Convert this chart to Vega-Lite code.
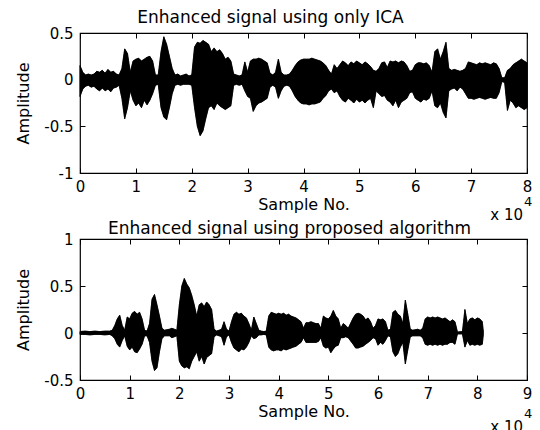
{
  "$schema": "https://vega.github.io/schema/vega-lite/v6.json",
  "background": "white",
  "padding": {"left": 15, "top": 8, "right": 2, "bottom": 0},
  "spacing": 66,
  "bounds": "flush",
  "config": {
    "view": {"stroke": "black", "strokeWidth": 1.2},
    "font": "DejaVu Sans",
    "axis": {
      "grid": false, "domain": false, "tickColor": "black", "tickSize": -5, "tickWidth": 1,
      "labelFont": "DejaVu Sans", "labelFontSize": 15, "labelColor": "black",
      "labelFlush": false, "labelOverlap": false,
      "titleFont": "DejaVu Sans", "titleFontSize": 16, "titleFontWeight": "normal", "titleColor": "black"
    },
    "axisX": {"labelPadding": 11, "titlePadding": 2},
    "axisY": {"labelPadding": 12, "titlePadding": 12},
    "title": {"font": "DejaVu Sans", "fontSize": 17, "fontWeight": "normal", "color": "black", "frame": "group", "baseline": "alphabetic"}
  },
  "datasets": {
    "t": [
      {"s":0,"h":0.15,"l":-0.18},{"s":500,"h":0.08,"l":-0.1},{"s":1000,"h":0.05,"l":-0.07},{"s":1500,"h":0.06,"l":-0.06},
      {"s":2000,"h":0.05,"l":-0.08},{"s":2500,"h":0.06,"l":-0.07},{"s":3000,"h":0.09,"l":-0.1},{"s":3500,"h":0.08,"l":-0.12},
      {"s":4000,"h":0.1,"l":-0.09},{"s":4500,"h":0.07,"l":-0.12},{"s":5000,"h":0.11,"l":-0.1},{"s":5500,"h":0.08,"l":-0.13},
      {"s":6000,"h":0.09,"l":-0.09},{"s":6500,"h":0.06,"l":-0.08},{"s":7000,"h":0.05,"l":-0.06},{"s":7500,"h":0.12,"l":-0.2},
      {"s":8000,"h":0.33,"l":-0.42},{"s":8500,"h":0.28,"l":-0.3},{"s":9000,"h":0.08,"l":-0.12},{"s":9500,"h":0.2,"l":-0.22},
      {"s":10000,"h":0.22,"l":-0.28},{"s":10500,"h":0.23,"l":-0.25},{"s":11000,"h":0.2,"l":-0.3},{"s":11500,"h":0.22,"l":-0.22},
      {"s":12000,"h":0.24,"l":-0.27},{"s":12500,"h":0.25,"l":-0.22},{"s":13000,"h":0.2,"l":-0.15},{"s":13500,"h":0.05,"l":-0.06},
      {"s":14000,"h":0.05,"l":-0.05},{"s":14500,"h":0.3,"l":-0.3},{"s":15000,"h":0.46,"l":-0.4},{"s":15500,"h":0.38,"l":-0.43},
      {"s":16000,"h":0.25,"l":-0.3},{"s":16500,"h":0.12,"l":-0.15},{"s":17000,"h":0.05,"l":-0.06},{"s":17500,"h":0.06,"l":-0.05},
      {"s":18000,"h":0.04,"l":-0.06},{"s":18500,"h":0.05,"l":-0.05},{"s":19000,"h":0.06,"l":-0.05},{"s":19500,"h":0.04,"l":-0.05},
      {"s":20000,"h":0.05,"l":-0.06},{"s":20500,"h":0.35,"l":-0.3},{"s":21000,"h":0.4,"l":-0.5},{"s":21500,"h":0.39,"l":-0.6},
      {"s":22000,"h":0.42,"l":-0.55},{"s":22500,"h":0.4,"l":-0.42},{"s":23000,"h":0.38,"l":-0.3},{"s":23500,"h":0.3,"l":-0.28},
      {"s":24000,"h":0.34,"l":-0.32},{"s":24500,"h":0.3,"l":-0.25},{"s":25000,"h":0.32,"l":-0.28},{"s":25500,"h":0.28,"l":-0.3},
      {"s":26000,"h":0.22,"l":-0.32},{"s":26500,"h":0.24,"l":-0.3},{"s":27000,"h":0.2,"l":-0.28},{"s":27500,"h":0.06,"l":-0.06},
      {"s":28000,"h":0.05,"l":-0.05},{"s":28500,"h":0.04,"l":-0.06},{"s":29000,"h":0.05,"l":-0.05},{"s":29500,"h":0.19,"l":-0.12},
      {"s":30000,"h":0.08,"l":-0.18},{"s":30500,"h":0.2,"l":-0.2},{"s":31000,"h":0.22,"l":-0.34},{"s":31500,"h":0.22,"l":-0.28},
      {"s":32000,"h":0.23,"l":-0.25},{"s":32500,"h":0.22,"l":-0.24},{"s":33000,"h":0.2,"l":-0.22},{"s":33500,"h":0.18,"l":-0.2},
      {"s":34000,"h":0.07,"l":-0.08},{"s":34500,"h":0.05,"l":-0.06},{"s":35000,"h":0.08,"l":-0.08},{"s":35500,"h":0.22,"l":-0.2},
      {"s":36000,"h":0.08,"l":-0.12},{"s":36500,"h":0.05,"l":-0.07},{"s":37000,"h":0.05,"l":-0.06},{"s":37500,"h":0.06,"l":-0.07},
      {"s":38000,"h":0.1,"l":-0.12},{"s":38500,"h":0.15,"l":-0.18},{"s":39000,"h":0.19,"l":-0.22},{"s":39500,"h":0.21,"l":-0.25},
      {"s":40000,"h":0.22,"l":-0.26},{"s":40500,"h":0.22,"l":-0.26},{"s":41000,"h":0.22,"l":-0.27},{"s":41500,"h":0.23,"l":-0.26},
      {"s":42000,"h":0.22,"l":-0.26},{"s":42500,"h":0.21,"l":-0.25},{"s":43000,"h":0.2,"l":-0.24},{"s":43500,"h":0.18,"l":-0.2},
      {"s":44000,"h":0.15,"l":-0.17},{"s":44500,"h":0.1,"l":-0.12},{"s":45000,"h":0.06,"l":-0.1},{"s":45500,"h":0.16,"l":-0.14},
      {"s":46000,"h":0.12,"l":-0.12},{"s":46500,"h":0.16,"l":-0.18},{"s":47000,"h":0.2,"l":-0.22},{"s":47500,"h":0.18,"l":-0.24},
      {"s":48000,"h":0.15,"l":-0.2},{"s":48500,"h":0.19,"l":-0.22},{"s":49000,"h":0.17,"l":-0.25},{"s":49500,"h":0.2,"l":-0.21},
      {"s":50000,"h":0.18,"l":-0.24},{"s":50500,"h":0.16,"l":-0.22},{"s":51000,"h":0.19,"l":-0.25},{"s":51500,"h":0.17,"l":-0.22},
      {"s":52000,"h":0.14,"l":-0.2},{"s":52500,"h":0.1,"l":-0.3},{"s":53000,"h":0.09,"l":-0.12},{"s":53500,"h":0.12,"l":-0.15},
      {"s":54000,"h":0.18,"l":-0.18},{"s":54500,"h":0.19,"l":-0.17},{"s":55000,"h":0.13,"l":-0.22},{"s":55500,"h":0.2,"l":-0.24},
      {"s":56000,"h":0.19,"l":-0.28},{"s":56500,"h":0.2,"l":-0.22},{"s":57000,"h":0.18,"l":-0.3},{"s":57500,"h":0.2,"l":-0.24},
      {"s":58000,"h":0.19,"l":-0.22},{"s":58500,"h":0.15,"l":-0.2},{"s":59000,"h":0.09,"l":-0.14},{"s":59500,"h":0.1,"l":-0.13},
      {"s":60000,"h":0.16,"l":-0.2},{"s":60500,"h":0.18,"l":-0.22},{"s":61000,"h":0.18,"l":-0.24},{"s":61500,"h":0.17,"l":-0.21},
      {"s":62000,"h":0.18,"l":-0.22},{"s":62500,"h":0.15,"l":-0.2},{"s":63000,"h":0.08,"l":-0.12},{"s":63500,"h":0.3,"l":-0.28},
      {"s":64000,"h":0.33,"l":-0.3},{"s":64500,"h":0.22,"l":-0.25},{"s":65000,"h":0.3,"l":-0.35},{"s":65500,"h":0.4,"l":-0.41},
      {"s":66000,"h":0.12,"l":-0.12},{"s":66500,"h":0.1,"l":-0.1},{"s":67000,"h":0.11,"l":-0.09},{"s":67500,"h":0.1,"l":-0.12},
      {"s":68000,"h":0.09,"l":-0.08},{"s":68500,"h":0.1,"l":-0.1},{"s":69000,"h":0.12,"l":-0.15},{"s":69500,"h":0.19,"l":-0.2},
      {"s":70000,"h":0.18,"l":-0.2},{"s":70500,"h":0.17,"l":-0.21},{"s":71000,"h":0.16,"l":-0.2},{"s":71500,"h":0.18,"l":-0.19},
      {"s":72000,"h":0.17,"l":-0.2},{"s":72500,"h":0.18,"l":-0.21},{"s":73000,"h":0.17,"l":-0.2},{"s":73500,"h":0.16,"l":-0.19},
      {"s":74000,"h":0.18,"l":-0.2},{"s":74500,"h":0.17,"l":-0.2},{"s":75000,"h":0.12,"l":-0.14},{"s":75500,"h":0.02,"l":-0.02},
      {"s":76000,"h":0.02,"l":-0.03},{"s":76500,"h":0.1,"l":-0.33},{"s":77000,"h":0.12,"l":-0.22},{"s":77500,"h":0.16,"l":-0.25},
      {"s":78000,"h":0.18,"l":-0.3},{"s":78500,"h":0.2,"l":-0.28},{"s":79000,"h":0.22,"l":-0.3},{"s":79500,"h":0.2,"l":-0.32},
      {"s":80000,"h":0.18,"l":-0.3}
    ],
    "b": [
      {"s":0,"h":0.015,"l":-0.015},{"s":1000,"h":0.02,"l":-0.015},{"s":2000,"h":0.015,"l":-0.02},{"s":3000,"h":0.02,"l":-0.015},
      {"s":4000,"h":0.015,"l":-0.015},{"s":5000,"h":0.02,"l":-0.02},{"s":6000,"h":0.02,"l":-0.015},{"s":6500,"h":0.03,"l":-0.03},
      {"s":7000,"h":0.08,"l":-0.06},{"s":7500,"h":0.15,"l":-0.12},{"s":8000,"h":0.19,"l":-0.15},{"s":8500,"h":0.08,"l":-0.08},
      {"s":9000,"h":0.03,"l":-0.03},{"s":9500,"h":0.17,"l":-0.14},{"s":10000,"h":0.15,"l":-0.18},{"s":10500,"h":0.21,"l":-0.15},
      {"s":11000,"h":0.23,"l":-0.2},{"s":11500,"h":0.2,"l":-0.21},{"s":12000,"h":0.22,"l":-0.17},{"s":12500,"h":0.15,"l":-0.12},
      {"s":13000,"h":0.03,"l":-0.03},{"s":13500,"h":0.02,"l":-0.03},{"s":14000,"h":0.1,"l":-0.1},{"s":14500,"h":0.36,"l":-0.3},
      {"s":15000,"h":0.41,"l":-0.4},{"s":15500,"h":0.3,"l":-0.37},{"s":16000,"h":0.18,"l":-0.2},{"s":16500,"h":0.05,"l":-0.06},
      {"s":17000,"h":0.03,"l":-0.03},{"s":18000,"h":0.04,"l":-0.03},{"s":18500,"h":0.05,"l":-0.05},{"s":19000,"h":0.04,"l":-0.04},
      {"s":19500,"h":0.03,"l":-0.03},{"s":20000,"h":0.3,"l":-0.3},{"s":20500,"h":0.5,"l":-0.35},{"s":21000,"h":0.58,"l":-0.37},
      {"s":21500,"h":0.52,"l":-0.36},{"s":22000,"h":0.48,"l":-0.38},{"s":22500,"h":0.4,"l":-0.3},{"s":23000,"h":0.3,"l":-0.25},
      {"s":23500,"h":0.18,"l":-0.2},{"s":24000,"h":0.3,"l":-0.3},{"s":24500,"h":0.32,"l":-0.25},{"s":25000,"h":0.28,"l":-0.33},
      {"s":25500,"h":0.33,"l":-0.26},{"s":26000,"h":0.3,"l":-0.24},{"s":26500,"h":0.25,"l":-0.22},{"s":27000,"h":0.04,"l":-0.04},
      {"s":27500,"h":0.02,"l":-0.02},{"s":28000,"h":0.03,"l":-0.03},{"s":28500,"h":0.04,"l":-0.04},{"s":29000,"h":0.12,"l":-0.13},
      {"s":29500,"h":0.04,"l":-0.04},{"s":30000,"h":0.02,"l":-0.02},{"s":30500,"h":0.12,"l":-0.1},{"s":31000,"h":0.2,"l":-0.16},
      {"s":31500,"h":0.22,"l":-0.18},{"s":32000,"h":0.2,"l":-0.2},{"s":32500,"h":0.21,"l":-0.17},{"s":33000,"h":0.18,"l":-0.18},
      {"s":33500,"h":0.16,"l":-0.15},{"s":34000,"h":0.1,"l":-0.1},{"s":34500,"h":0.03,"l":-0.03},{"s":35000,"h":0.17,"l":-0.06},
      {"s":35500,"h":0.1,"l":-0.05},{"s":36000,"h":0.03,"l":-0.02},{"s":36500,"h":0.02,"l":-0.02},{"s":37000,"h":0.015,"l":-0.015},
      {"s":37500,"h":0.02,"l":-0.02},{"s":38000,"h":0.18,"l":-0.15},{"s":38500,"h":0.22,"l":-0.18},{"s":39000,"h":0.21,"l":-0.19},
      {"s":39500,"h":0.2,"l":-0.18},{"s":40000,"h":0.21,"l":-0.18},{"s":40500,"h":0.2,"l":-0.19},{"s":41000,"h":0.21,"l":-0.17},
      {"s":41500,"h":0.19,"l":-0.18},{"s":42000,"h":0.2,"l":-0.17},{"s":42500,"h":0.18,"l":-0.16},{"s":43000,"h":0.17,"l":-0.15},
      {"s":43500,"h":0.16,"l":-0.14},{"s":44000,"h":0.14,"l":-0.12},{"s":44500,"h":0.12,"l":-0.1},{"s":45000,"h":0.05,"l":-0.05},
      {"s":45500,"h":0.11,"l":-0.1},{"s":46000,"h":0.11,"l":-0.1},{"s":46500,"h":0.12,"l":-0.1},{"s":47000,"h":0.11,"l":-0.1},
      {"s":47500,"h":0.1,"l":-0.1},{"s":48000,"h":0.1,"l":-0.09},{"s":48500,"h":0.05,"l":-0.05},{"s":49000,"h":0.18,"l":-0.14},
      {"s":49500,"h":0.16,"l":-0.16},{"s":50000,"h":0.15,"l":-0.15},{"s":50500,"h":0.18,"l":-0.21},{"s":51000,"h":0.24,"l":-0.17},
      {"s":51500,"h":0.18,"l":-0.14},{"s":52000,"h":0.15,"l":-0.13},{"s":52500,"h":0.05,"l":-0.05},{"s":53000,"h":0.1,"l":-0.05},
      {"s":53500,"h":0.08,"l":-0.04},{"s":54000,"h":0.05,"l":-0.05},{"s":55000,"h":0.16,"l":-0.12},{"s":55500,"h":0.2,"l":-0.16},
      {"s":56000,"h":0.21,"l":-0.16},{"s":56500,"h":0.2,"l":-0.15},{"s":57000,"h":0.18,"l":-0.14},{"s":57500,"h":0.14,"l":-0.12},
      {"s":58000,"h":0.16,"l":-0.1},{"s":58500,"h":0.12,"l":-0.08},{"s":59000,"h":0.05,"l":-0.05},{"s":59500,"h":0.08,"l":-0.06},
      {"s":60000,"h":0.15,"l":-0.13},{"s":60500,"h":0.14,"l":-0.1},{"s":61000,"h":0.15,"l":-0.12},{"s":61500,"h":0.12,"l":-0.08},
      {"s":62000,"h":0.03,"l":-0.03},{"s":62500,"h":0.04,"l":-0.04},{"s":63000,"h":0.22,"l":-0.2},{"s":63500,"h":0.24,"l":-0.25},
      {"s":64000,"h":0.2,"l":-0.22},{"s":64500,"h":0.18,"l":-0.15},{"s":65000,"h":0.1,"l":-0.1},{"s":65500,"h":0.35,"l":-0.33},
      {"s":66000,"h":0.2,"l":-0.18},{"s":66500,"h":0.04,"l":-0.04},{"s":67000,"h":0.03,"l":-0.03},{"s":68000,"h":0.04,"l":-0.03},
      {"s":68500,"h":0.03,"l":-0.03},{"s":69000,"h":0.05,"l":-0.05},{"s":69500,"h":0.15,"l":-0.12},{"s":70000,"h":0.17,"l":-0.13},
      {"s":70500,"h":0.16,"l":-0.12},{"s":71000,"h":0.17,"l":-0.13},{"s":71500,"h":0.16,"l":-0.12},{"s":72000,"h":0.17,"l":-0.13},
      {"s":72500,"h":0.16,"l":-0.12},{"s":73000,"h":0.15,"l":-0.13},{"s":73500,"h":0.16,"l":-0.12},{"s":74000,"h":0.14,"l":-0.12},
      {"s":74500,"h":0.12,"l":-0.1},{"s":75000,"h":0.14,"l":-0.1},{"s":75500,"h":0.12,"l":-0.12},{"s":76000,"h":0.01,"l":-0.01},
      {"s":77000,"h":0.015,"l":-0.01},{"s":77500,"h":0.25,"l":-0.15},{"s":78000,"h":0.1,"l":-0.08},{"s":78500,"h":0.15,"l":-0.13},
      {"s":79000,"h":0.16,"l":-0.12},{"s":79500,"h":0.14,"l":-0.13},{"s":80000,"h":0.16,"l":-0.12},{"s":80500,"h":0.15,"l":-0.13},
      {"s":81000,"h":0.12,"l":-0.12},{"s":81200,"h":0.02,"l":-0.02}
    ]
  },
  "vconcat": [
    {
      "width": 447, "height": 140,
      "title": {"text": "Enhanced signal using only ICA", "offset": -1, "dx": -33},
      "layer": [
        {
          "data": {"name": "t"},
          "mark": {"type": "area", "color": "black", "stroke": "black", "strokeWidth": 0.6},
          "encoding": {
            "x": {"field": "s", "type": "quantitative", "scale": {"domain": [0, 80000], "nice": false},
                  "axis": {"orient": "bottom", "values": [0,10000,20000,30000,40000,50000,60000,70000,80000], "labelExpr": "'' + datum.value / 10000", "title": "Sample No."}},
            "y": {"field": "h", "type": "quantitative", "scale": {"domain": [-1, 0.5], "nice": false},
                  "axis": {"orient": "left", "values": [-1, -0.5, 0, 0.5], "labelExpr": "'' + datum.value", "title": "Amplitude"}},
            "y2": {"field": "l"}
          }
        },
        {
          "data": {"name": "t"},
          "mark": {"type": "area", "color": "black", "stroke": "black", "strokeWidth": 0.6},
          "encoding": {
            "x": {"field": "s", "type": "quantitative",
                  "axis": {"orient": "top", "values": [0,10000,20000,30000,40000,50000,60000,70000,80000], "labels": false, "title": null}},
            "y": {"field": "h", "type": "quantitative",
                  "axis": {"orient": "right", "values": [-1, -0.5, 0, 0.5], "labels": false, "title": null}},
            "y2": {"field": "l"}
          }
        },
        {
          "data": {"values": [{}]},
          "mark": {"type": "text", "text": "x 10", "align": "right", "baseline": "alphabetic", "fontSize": 15, "dx": -4, "dy": 47},
          "encoding": {
            "x": {"datum": 80000, "type": "quantitative", "axis": null},
            "y": {"datum": -1, "type": "quantitative", "axis": null}
          }
        },
        {
          "data": {"values": [{}]},
          "mark": {"type": "text", "text": "4", "align": "left", "baseline": "alphabetic", "fontSize": 13, "dx": -3, "dy": 33},
          "encoding": {
            "x": {"datum": 80000, "type": "quantitative", "axis": null},
            "y": {"datum": -1, "type": "quantitative", "axis": null}
          }
        }
      ],
      "resolve": {"axis": {"x": "independent", "y": "independent"}}
    },
    {
      "width": 447, "height": 141,
      "title": {"text": "Enhanced signal using proposed algorithm", "offset": -6, "dx": -14},
      "layer": [
        {
          "data": {"name": "b"},
          "mark": {"type": "area", "color": "black", "stroke": "black", "strokeWidth": 0.6},
          "encoding": {
            "x": {"field": "s", "type": "quantitative", "scale": {"domain": [0, 90000], "nice": false},
                  "axis": {"orient": "bottom", "values": [0,10000,20000,30000,40000,50000,60000,70000,80000,90000], "labelExpr": "'' + datum.value / 10000", "title": "Sample No."}},
            "y": {"field": "h", "type": "quantitative", "scale": {"domain": [-0.5, 1], "nice": false},
                  "axis": {"orient": "left", "values": [-0.5, 0, 0.5, 1], "labelExpr": "'' + datum.value", "title": "Amplitude"}},
            "y2": {"field": "l"}
          }
        },
        {
          "data": {"name": "b"},
          "mark": {"type": "area", "color": "black", "stroke": "black", "strokeWidth": 0.6},
          "encoding": {
            "x": {"field": "s", "type": "quantitative",
                  "axis": {"orient": "top", "values": [0,10000,20000,30000,40000,50000,60000,70000,80000,90000], "labels": false, "title": null}},
            "y": {"field": "h", "type": "quantitative",
                  "axis": {"orient": "right", "values": [-0.5, 0, 0.5, 1], "labels": false, "title": null}},
            "y2": {"field": "l"}
          }
        },
        {
          "data": {"values": [{}]},
          "mark": {"type": "text", "text": "x 10", "align": "right", "baseline": "alphabetic", "fontSize": 15, "dx": -4, "dy": 52},
          "encoding": {
            "x": {"datum": 90000, "type": "quantitative", "axis": null},
            "y": {"datum": -0.5, "type": "quantitative", "axis": null}
          }
        },
        {
          "data": {"values": [{}]},
          "mark": {"type": "text", "text": "4", "align": "left", "baseline": "alphabetic", "fontSize": 13, "dx": -3, "dy": 38},
          "encoding": {
            "x": {"datum": 90000, "type": "quantitative", "axis": null},
            "y": {"datum": -0.5, "type": "quantitative", "axis": null}
          }
        }
      ],
      "resolve": {"axis": {"x": "independent", "y": "independent"}}
    }
  ]
}
